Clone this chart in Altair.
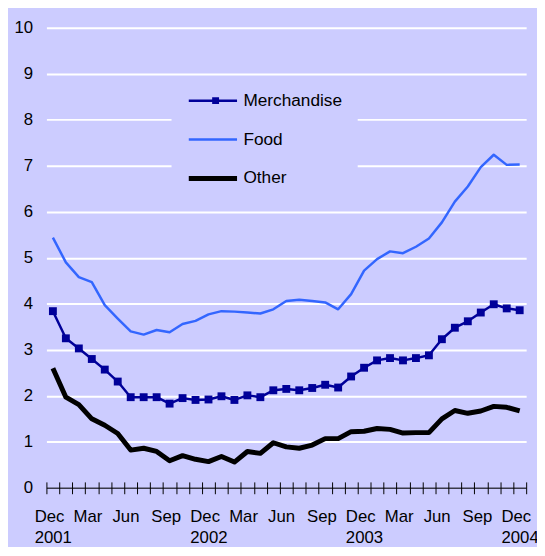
import json
import altair as alt
import pandas as pd

series_names = ["Merchandise", "Food", "Other"]
series_colors = ["#000099", "#3366FF", "#000000"]
series_widths = [2.5, 2.5, 5]

merchandise = [3.84, 3.25, 3.03, 2.80, 2.57, 2.31, 1.97, 1.97, 1.97, 1.83, 1.95, 1.91,
               1.92, 1.99, 1.91, 2.01, 1.97, 2.12, 2.15, 2.12, 2.17, 2.24, 2.18, 2.42,
               2.61, 2.77, 2.82, 2.77, 2.82, 2.88, 3.23, 3.48, 3.62, 3.81, 3.99, 3.90, 3.86]
food = [5.44, 4.90, 4.58, 4.47, 3.97, 3.68, 3.40, 3.33, 3.43, 3.38, 3.56, 3.63,
        3.77, 3.84, 3.83, 3.81, 3.79, 3.88, 4.06, 4.09, 4.06, 4.03, 3.88, 4.21,
        4.72, 4.97, 5.14, 5.10, 5.24, 5.42, 5.77, 6.22, 6.55, 6.97, 7.24, 7.02, 7.03]
other = [2.60, 1.97, 1.81, 1.50, 1.36, 1.18, 0.82, 0.86, 0.79, 0.59, 0.70, 0.62,
         0.57, 0.68, 0.56, 0.79, 0.75, 0.98, 0.89, 0.86, 0.93, 1.07, 1.07, 1.22,
         1.23, 1.29, 1.27, 1.19, 1.20, 1.20, 1.50, 1.68, 1.62, 1.67, 1.77, 1.75, 1.67]

axis_months = ["Dec", "Mar", "Jun", "Sep"] * 3 + ["Dec"]
axis_years = ["2001", "", "", "", "2002", "", "", "", "2003", "", "", "", "2004"]
y_ticks = list(range(0, 11))

n = len(merchandise)
rows = []
for name, vals in zip(series_names, [merchandise, food, other]):
    for i, v in enumerate(vals):
        rows.append({"idx": i, "series": name, "value": v})
df = pd.DataFrame(rows)

label_positions = list(range(0, n, 3))
lab_arr = json.dumps([[m, y] if y else m for m, y in zip(axis_months, axis_years)])
label_expr = lab_arr + "[round(datum.value / 3)]"

FONT = "Liberation Sans, Arial, sans-serif"
W, H = 487, 467
xscale = alt.Scale(domain=[-0.5, n - 0.5], nice=False, zero=False)

label_axis = alt.Axis(
    orient="bottom", values=label_positions, ticks=False, domain=False, grid=False,
    offset=-6, labelExpr=label_expr, labelOffset=-19, labelAlign="left",
    labelPadding=27, labelFontSize=17, labelColor="#000000",
    labelLineHeight=22, labelAngle=0, labelFont=FONT,
    labelOverlap=False, labelFlush=False, labelBound=False, title=None,
)
tick_axis = alt.Axis(
    orient="bottom", values=[i - 0.5 for i in range(n + 1)],
    tickSize=12, tickColor="#000000", tickWidth=1,
    domain=False, grid=False, offset=-6, labels=False, title=None,
)
y_enc = alt.Y(
    "value:Q",
    scale=alt.Scale(domain=[0, 10], nice=False),
    axis=alt.Axis(
        values=y_ticks, ticks=False, domain=False, grid=True,
        gridColor={"condition": {"test": "datum.value === 0", "value": "#3a3a4a"}, "value": "#FFFFFF"},
        gridWidth={"condition": {"test": "datum.value === 0", "value": 1.5}, "value": 2},
        labelFontSize=17, labelPadding=14, labelColor="#000000", labelFont=FONT,
        title=None,
    ),
)

LX, LY, LP = 127, 49, 15
line_legend = alt.Legend(
    title=None, orient="none", legendX=LX, legendY=LY, zindex=1,
    fillColor="#CCCCFF", padding=LP, symbolType="stroke", symbolSize=2401,
    clipHeight=20, rowPadding=19.5,
    labelFontSize=17.5, labelColor="#000000", labelFont=FONT, labelOffset=4,
)
marker_legend = alt.Legend(
    title=None, orient="none", legendX=LX + 21, legendY=LY, zindex=2,
    padding=LP, symbolType="square", symbolSize=49, symbolStrokeWidth=0,
    clipHeight=20, rowPadding=19.5, labelExpr="''", labelFontSize=17.5,
)

width_scale = alt.Scale(type="ordinal", domain=series_names, range=series_widths)

base = alt.Chart(df)
lines = base.mark_line(strokeJoin="round").encode(
    x=alt.X("idx:Q", scale=xscale, axis=label_axis),
    y=y_enc,
    color=alt.Color("series:N", scale=alt.Scale(domain=series_names, range=series_colors), legend=line_legend),
    strokeWidth=alt.StrokeWidth("series:N", scale=width_scale, legend=None),
)
points = base.transform_filter(alt.datum.series == "Merchandise").mark_square(
    size=64, opacity=1, filled=True
).encode(
    x=alt.X("idx:Q", scale=xscale, axis=tick_axis),
    y="value:Q",
    fill=alt.Fill("series:N", scale=alt.Scale(domain=series_names[:1], range=series_colors[:1]), legend=marker_legend),
)

chart = alt.layer(lines, points).resolve_axis(x="independent").properties(
    width=W, height=H,
    autosize=alt.AutoSizeParams(type="none"),
    padding={"left": 39, "top": 16, "right": 11, "bottom": 56},
    background="#CCCCFF",
).configure_view(stroke=None)

chart.save("out.html", embed_options={"renderer": "svg", "actions": False})
